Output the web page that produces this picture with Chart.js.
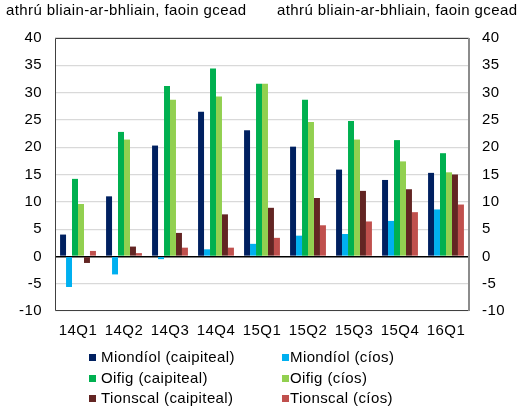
<!DOCTYPE html>
<html>
<head>
<meta charset="utf-8">
<script src="https://cdn.jsdelivr.net/npm/chart.js@4/dist/chart.umd.min.js"></script>
<style>
  body { margin: 0; background: #fff; }
  #wrap { position: relative; width: 521px; height: 408px; font-family: "Liberation Sans", Arial, sans-serif; font-size: 15px; letter-spacing: 0.4px; color: #000; }
  #graph { position: absolute; left: 0; top: 0; }
  .title { position: absolute; top: 1px; line-height: 17px; white-space: nowrap; }
  .leg { position: absolute; line-height: 17px; white-space: nowrap; }
  .leg span.box { position: absolute; width: 7px; height: 7px; top: 5px; }
</style>
</head>
<body>
<div id="wrap">
  <canvas id="graph" width="521" height="408"></canvas>
  <div class="title" style="left:6px;">athrú bliain-ar-bhliain, faoin gcead</div>
  <div class="title" style="left:277px;">athrú bliain-ar-bhliain, faoin gcead</div>
  <div id="legend"></div>
</div>
<script>
var quarters = ["14Q1", "14Q2", "14Q3", "14Q4", "15Q1", "15Q2", "15Q3", "15Q4", "16Q1"];

var miondiolCaip = [4.0, 11.0, 20.3, 26.5, 23.1, 20.1, 15.9, 14.0, 15.3];
var miondiolCios = [-5.6, -3.3, -0.5, 1.3, 2.3, 3.8, 4.1, 6.5, 8.6];
var oifigCaip = [14.2, 22.8, 31.2, 34.4, 31.6, 28.7, 24.8, 21.3, 18.9];
var oifigCios = [9.6, 21.4, 28.7, 29.3, 31.6, 24.6, 21.4, 17.4, 15.4];
var tionscalCaip = [-1.2, 1.8, 4.3, 7.7, 8.9, 10.7, 12.0, 12.3, 15.0];
var tionscalCios = [1.0, 0.6, 1.6, 1.6, 3.4, 5.7, 6.4, 8.1, 9.5];

var yTicks = { min: -10, max: 40, step: 5 };

function bars(label, colour, values) {
  return {
    label: label,
    backgroundColor: colour,
    borderWidth: 0,
    data: values
  };
}

var frame = {
  id: "frame",
  afterDraw: function (chart) {
    var a = chart.chartArea, c = chart.ctx;
    c.save();
    c.strokeStyle = "#404040";
    c.lineWidth = 1;
    c.beginPath();
    c.moveTo(a.right, a.top + 0.5);
    c.lineTo(a.left + 0.5, a.top + 0.5);
    c.lineTo(a.left + 0.5, a.bottom - 0.5);
    c.lineTo(a.right, a.bottom - 0.5);
    c.stroke();
    c.strokeStyle = "#8c8c8c";
    c.lineWidth = 2;
    c.beginPath();
    c.moveTo(a.right, a.top);
    c.lineTo(a.right, a.bottom);
    c.stroke();
    c.restore();
  }
};

Chart.defaults.font.family = '"Liberation Sans", Arial, sans-serif';
Chart.defaults.font.size = 15;
Chart.defaults.color = "#000";

var yAxis = function (pos, width) {
  return {
    position: pos,
    min: yTicks.min,
    max: yTicks.max,
    border: { display: false },
    grid: {
      drawOnChartArea: pos === "left",
      drawTicks: false,
      color: function (ctx) { return ctx.tick && ctx.tick.value === 0 ? "#000" : "#d9d9d9"; },
      lineWidth: function (ctx) { return ctx.tick && ctx.tick.value === 0 ? 1.5 : 1.2; }
    },
    ticks: { stepSize: yTicks.step, padding: 13 },
    afterFit: function (scale) { scale.width = width; }
  };
};

var graph = new Chart("graph", {
  type: "bar",
  data: {
    labels: quarters,
    datasets: [
      bars("Miondíol (caipiteal)", "#002060", miondiolCaip),
      bars("Miondíol (cíos)", "#00b0f0", miondiolCios),
      bars("Oifig (caipiteal)", "#00b050", oifigCaip),
      bars("Oifig (cíos)", "#92d050", oifigCios),
      bars("Tionscal (caipiteal)", "#632523", tionscalCaip),
      bars("Tionscal (cíos)", "#c0504d", tionscalCios)
    ]
  },
  options: {
    responsive: false,
    animation: false,
    devicePixelRatio: 1,
    categoryPercentage: 0.78,
    barPercentage: 1,
    layout: { padding: { top: 38, left: 0, right: 0, bottom: 0 } },
    plugins: { legend: { display: false }, tooltip: { enabled: false } },
    scales: {
      x: {
        grid: { display: false, drawTicks: false },
        border: { display: false },
        ticks: { padding: 11, maxRotation: 0 },
        afterFit: function (scale) { scale.height = 97; }
      },
      y: yAxis("left", 55),
      y2: yAxis("right", 52)
    }
  },
  plugins: [frame]
});

// legend in two columns, built from the datasets
var legendPos = [
  { box: 89, text: 101 },
  { box: 282, text: 290 }
];
var legendRows = [348, 369, 389];
var legend = document.getElementById("legend");
graph.data.datasets.forEach(function (ds, i) {
  var col = legendPos[i % 2], row = legendRows[Math.floor(i / 2)];
  var item = document.createElement("div");
  item.className = "leg";
  item.style.left = col.box + "px";
  item.style.top = row + "px";
  var box = document.createElement("span");
  box.className = "box";
  box.style.left = "0px";
  box.style.top = "6px";
  box.style.background = ds.backgroundColor;
  var txt = document.createElement("span");
  txt.style.marginLeft = (col.text - col.box) + "px";
  txt.textContent = ds.label;
  item.appendChild(box);
  item.appendChild(txt);
  legend.appendChild(item);
});
</script>
</body>
</html>
